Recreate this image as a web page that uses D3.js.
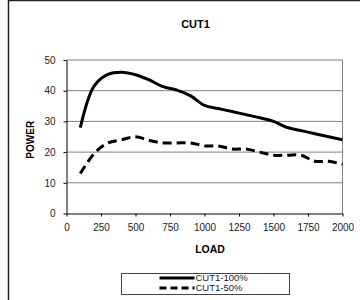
<!DOCTYPE html>
<html>
<head>
<meta charset="utf-8">
<script src="https://cdn.jsdelivr.net/npm/d3@7"></script>
<style>
  body { margin: 0; background: #fff; }
  text { font-family: "Liberation Sans", Arial, sans-serif; }
</style>
</head>
<body>
<div id="chart"></div>
<script>
// Data
var loads = [100, 200, 300, 400, 500, 600, 700, 800, 900, 1000, 1100, 1200, 1300, 1400, 1500, 1600, 1700, 1800, 1900, 2000];
var cut100 = [28, 41.5, 45.3, 46, 45.2, 43.5, 41.3, 40.2, 38.3, 35.2, 34.2, 33.2, 32.2, 31.2, 30, 28, 27, 26, 25, 24];
var cut50 = [13, 19.5, 23, 24, 25, 23.8, 23, 23, 23, 22, 22, 21, 21, 20, 19, 19, 19, 17, 17, 16];
var seriesNames = ["CUT1-100%", "CUT1-50%"];
var xTicks = [0, 250, 500, 750, 1000, 1250, 1500, 1750, 2000];
var yTicks = [0, 10, 20, 30, 40, 50];

// Chart setup
var svgWidth = 360;
var svgHeight = 300;
var margin = { top: 60, left: 66.5, right: 17.5, bottom: 86.5 };
var width = svgWidth - margin.left - margin.right;
var height = svgHeight - margin.top - margin.bottom;

var svg = d3.select("#chart").append("svg")
    .attr("width", svgWidth)
    .attr("height", svgHeight);

// outer chart frame (cut off right and bottom)
svg.append("rect")
    .attr("x", 8.5).attr("y", 0.5)
    .attr("width", 400).attr("height", 400)
    .attr("fill", "none")
    .attr("stroke", "#222")
    .attr("stroke-width", 1.5);

svg.append("text")
    .attr("x", 195.5).attr("y", 27.5)
    .attr("text-anchor", "middle")
    .attr("font-size", "11px")
    .attr("font-weight", "bold")
    .text("CUT1");

var chartGroup = svg.append("g")
    .attr("transform", `translate(${margin.left}, ${margin.top})`);

var x = d3.scaleLinear().domain([0, 2000]).range([0, width]);
var y = d3.scaleLinear().domain([0, 50]).range([height, 0]);

// gridlines
chartGroup.selectAll(".grid")
    .data(yTicks.filter(d => d > 0))
    .enter()
    .append("line")
    .attr("x1", 0).attr("x2", width)
    .attr("y1", d => y(d)).attr("y2", d => y(d))
    .attr("stroke", "#808080")
    .attr("stroke-width", 1);

// right border of plot
chartGroup.append("line")
    .attr("x1", width).attr("x2", width)
    .attr("y1", 0).attr("y2", height)
    .attr("stroke", "#808080");

// Axes
var bottomAxis = d3.axisBottom(x).tickValues(xTicks).tickFormat(d3.format("d"))
    .tickSize(3).tickSizeOuter(0).tickPadding(7);
var leftAxis = d3.axisLeft(y).tickValues(yTicks).tickFormat(d3.format("d"))
    .tickSize(3).tickSizeOuter(0).tickPadding(8);

var gx = chartGroup.append("g")
    .attr("transform", `translate(0, ${height})`)
    .call(bottomAxis);
var gy = chartGroup.append("g").call(leftAxis);

[gx, gy].forEach(function(g) {
  g.select(".domain").attr("stroke", "#000");
  g.selectAll(".tick line").attr("stroke", "#000");
  g.selectAll("text")
    .attr("font-family", "Liberation Sans, Arial, sans-serif")
    .attr("font-size", "10px")
    .attr("fill", "#222");
});

// axis labels
chartGroup.append("text")
    .attr("transform", "rotate(-90)")
    .attr("x", -(height / 2) - 3)
    .attr("y", -33)
    .attr("text-anchor", "middle")
    .attr("font-size", "10px")
    .attr("font-weight", "bold")
    .text("POWER");

chartGroup.append("text")
    .attr("x", 210 - margin.left)
    .attr("y", 253 - margin.top)
    .attr("text-anchor", "middle")
    .attr("font-size", "10.5px")
    .attr("font-weight", "bold")
    .text("LOAD");

// Lines
var line = d3.line()
    .x(d => x(d[0]))
    .y(d => y(d[1]))
    .curve(d3.curveCatmullRom.alpha(0.5));

chartGroup.append("path")
    .datum(d3.zip(loads, cut100))
    .attr("d", line)
    .attr("fill", "none")
    .attr("stroke", "#000")
    .attr("stroke-width", 3);

chartGroup.append("path")
    .datum(d3.zip(loads, cut50))
    .attr("d", line)
    .attr("fill", "none")
    .attr("stroke", "#000")
    .attr("stroke-width", 3)
    .attr("stroke-dasharray", "9,5");

// Legend
var legend = svg.append("g").attr("transform", "translate(121.5, 273.5)");
legend.append("rect")
    .attr("width", 168).attr("height", 21)
    .attr("fill", "#fff")
    .attr("stroke", "#444")
    .attr("stroke-width", 1);

var dashes = [null, "7,4"];
seriesNames.forEach(function(name, i) {
  var ly = 4.5 + i * 10;
  legend.append("line")
    .attr("x1", 38).attr("x2", 73)
    .attr("y1", ly).attr("y2", ly)
    .attr("stroke", "#000")
    .attr("stroke-width", 3)
    .attr("stroke-dasharray", dashes[i]);
  legend.append("text")
    .attr("x", 74).attr("y", ly + 3.3)
    .attr("font-size", "9.5px")
    .attr("fill", "#222")
    .text(name);
});
</script>
</body>
</html>
